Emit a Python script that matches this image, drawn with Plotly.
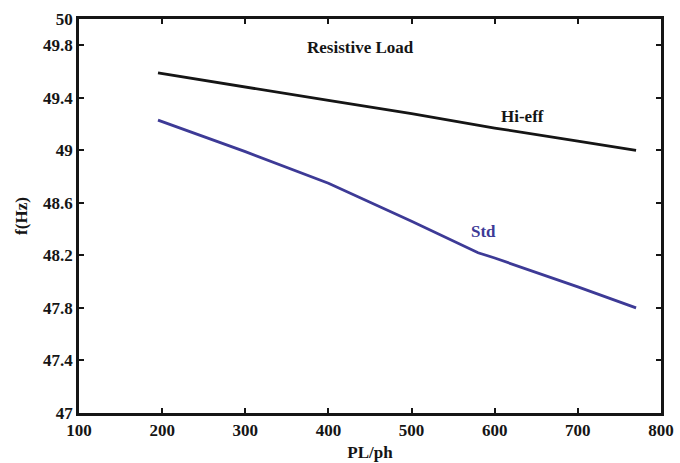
import plotly.graph_objects as go

# Data
hi_x = [195, 300, 400, 500, 600, 700, 770]
hi_y = [49.59, 49.48, 49.38, 49.28, 49.17, 49.07, 49.00]

std_x = [195, 300, 400, 500, 580, 600, 700, 770]
std_y = [49.23, 48.99, 48.75, 48.46, 48.22, 48.18, 47.96, 47.80]

x_ticks = [100, 200, 300, 400, 500, 600, 700, 800]
y_ticks = [47, 47.4, 47.8, 48.2, 48.6, 49, 49.4, 49.8, 50]
y_tick_text = ["47", "47.4", "47.8", "48.2", "48.6", "49", "49.4", "49.8", "50"]

FONT = "Liberation Serif"
INK = "#151515"

fig = go.Figure()
fig.add_trace(go.Scatter(x=hi_x, y=hi_y, mode="lines",
                         line=dict(color=INK, width=2.8), name="Hi-eff"))
fig.add_trace(go.Scatter(x=std_x, y=std_y, mode="lines",
                         line=dict(color="#3d3a96", width=2.8), name="Std"))

fig.add_annotation(x=438, y=49.78, text="<b>Resistive Load</b>", showarrow=False,
                   font=dict(family=FONT, size=17, color=INK))
fig.add_annotation(x=634, y=49.26, text="<b>Hi-eff</b>", showarrow=False,
                   font=dict(family=FONT, size=17, color=INK))
fig.add_annotation(x=586, y=48.38, text="<b>Std</b>", showarrow=False,
                   font=dict(family=FONT, size=17, color="#3d3a96"))

axis_common = dict(showgrid=False, zeroline=False, showline=True, linecolor=INK,
                   linewidth=2.5, mirror="ticks", ticks="inside", ticklen=5,
                   tickcolor=INK, tickwidth=1.5, automargin=False,
                   tickfont=dict(family=FONT, size=17, color=INK, weight="bold"))

fig.update_xaxes(range=[100, 800], tickvals=x_ticks,
                 title=dict(text="<b>PL/ph</b>", font=dict(family=FONT, size=17, color=INK),
                            standoff=7),
                 **axis_common)
fig.update_yaxes(range=[47, 50], tickvals=y_ticks, ticktext=y_tick_text,
                 title=dict(text="<b>f(Hz)</b>", font=dict(family=FONT, size=17, color=INK),
                            standoff=12),
                 **axis_common)

fig.update_layout(width=680, height=463, showlegend=False,
                  margin=dict(l=79, r=19, t=19, b=50),
                  paper_bgcolor="white", plot_bgcolor="white")

fig.write_html("out.html")
